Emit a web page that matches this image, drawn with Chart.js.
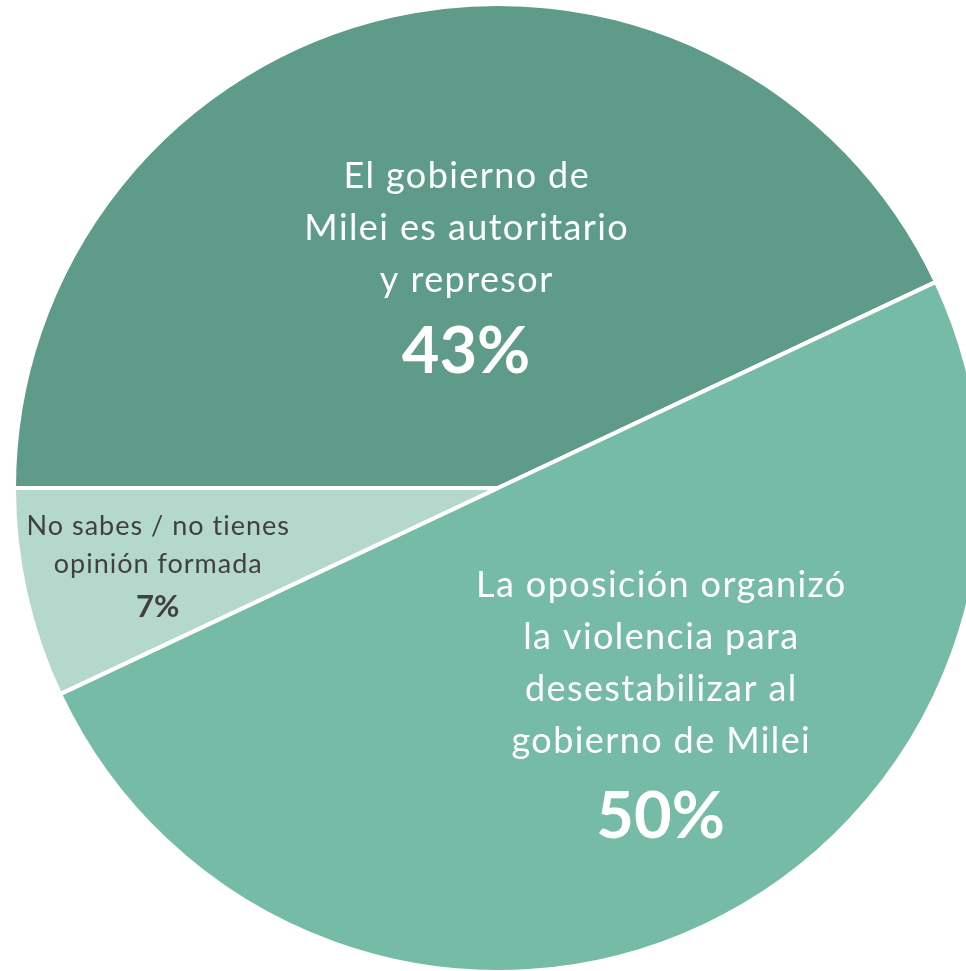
<!DOCTYPE html>
<html>
<head>
<meta charset="utf-8">
<script src="https://cdn.jsdelivr.net/npm/chart.js@4.4.1/dist/chart.umd.min.js"></script>
<style>
  html, body { margin: 0; padding: 0; background: #ffffff; overflow: hidden; width: 966px; height: 971px; }
  #wrap { position: absolute; left: 0; top: 0; width: 996px; height: 976px; }
  canvas { display: block; }
</style>
</head>
<body>
<div id="wrap"><canvas id="c" width="996" height="976"></canvas></div>
<script>
// ---- data ----
const categories = [
  ["El gobierno de", "Milei es autoritario", "y represor"],
  ["La oposición organizó", "la violencia para", "desestabilizar al", "gobierno de Milei"],
  ["No sabes / no tienes", "opinión formada"]
];
const values = [43, 50, 7];
const colors = ["#5E9B88", "#75BBA6", "#B5D8CC"];
const textColors = ["#FFFFFF", "#FFFFFF", "#404040"];

// label layout (fractions of radius from the pie centre, first baseline)
const labelAnchors = [
  { fx: -0.066, fy: -0.620, size: 36, ls: 1.4, pctSize: 65, lh: 52, pctGap: 81 },
  { fx: 0.336, fy: 0.226, size: 36, ls: 1.4, pctSize: 65, lh: 52, pctGap: 85 },
  { fx: -0.703, fy: 0.098, size: 27, ls: 1.0, pctSize: 31, lh: 38, pctGap: 44 }
];

const labelPlugin = {
  id: 'sliceLabels',
  afterDatasetsDraw(chart) {
    const ctx = chart.ctx;
    const meta = chart.getDatasetMeta(0);
    meta.data.forEach((arc, i) => {
      const R = arc.outerRadius;
      const a = labelAnchors[i];
      const x = arc.x + a.fx * R;
      let y = arc.y + a.fy * R;
      ctx.save();
      ctx.fillStyle = textColors[i];
      ctx.textAlign = 'center';
      ctx.textBaseline = 'alphabetic';
      ctx.font = `400 ${a.size}px Lato, "Open Sans", sans-serif`;
      if ('letterSpacing' in ctx) ctx.letterSpacing = a.ls + 'px';
      const lines = categories[i];
      lines.forEach((ln, k) => {
        ctx.fillText(ln, x + a.ls / 2, y + k * a.lh);
      });
      const lastY = y + (lines.length - 1) * a.lh;
      ctx.font = `700 ${a.pctSize}px Lato, "Open Sans", sans-serif`;
      if ('letterSpacing' in ctx) ctx.letterSpacing = '0px';
      ctx.fillText(values[i] + '%', x, lastY + a.pctGap);
      ctx.restore();
    });
  }
};

new Chart(document.getElementById('c'), {
  type: 'pie',
  data: {
    labels: categories.map(l => l.join(' ')),
    datasets: [{
      data: values,
      backgroundColor: colors,
      borderColor: '#FFFFFF',
      borderWidth: 4,
      hoverOffset: 0
    }]
  },
  options: {
    responsive: false,
    animation: false,
    rotation: 270,
    radius: 484,
    layout: { padding: 0 },
    plugins: {
      legend: { display: false },
      tooltip: { enabled: false }
    },
    events: []
  },
  plugins: [labelPlugin]
});
</script>
</body>
</html>
